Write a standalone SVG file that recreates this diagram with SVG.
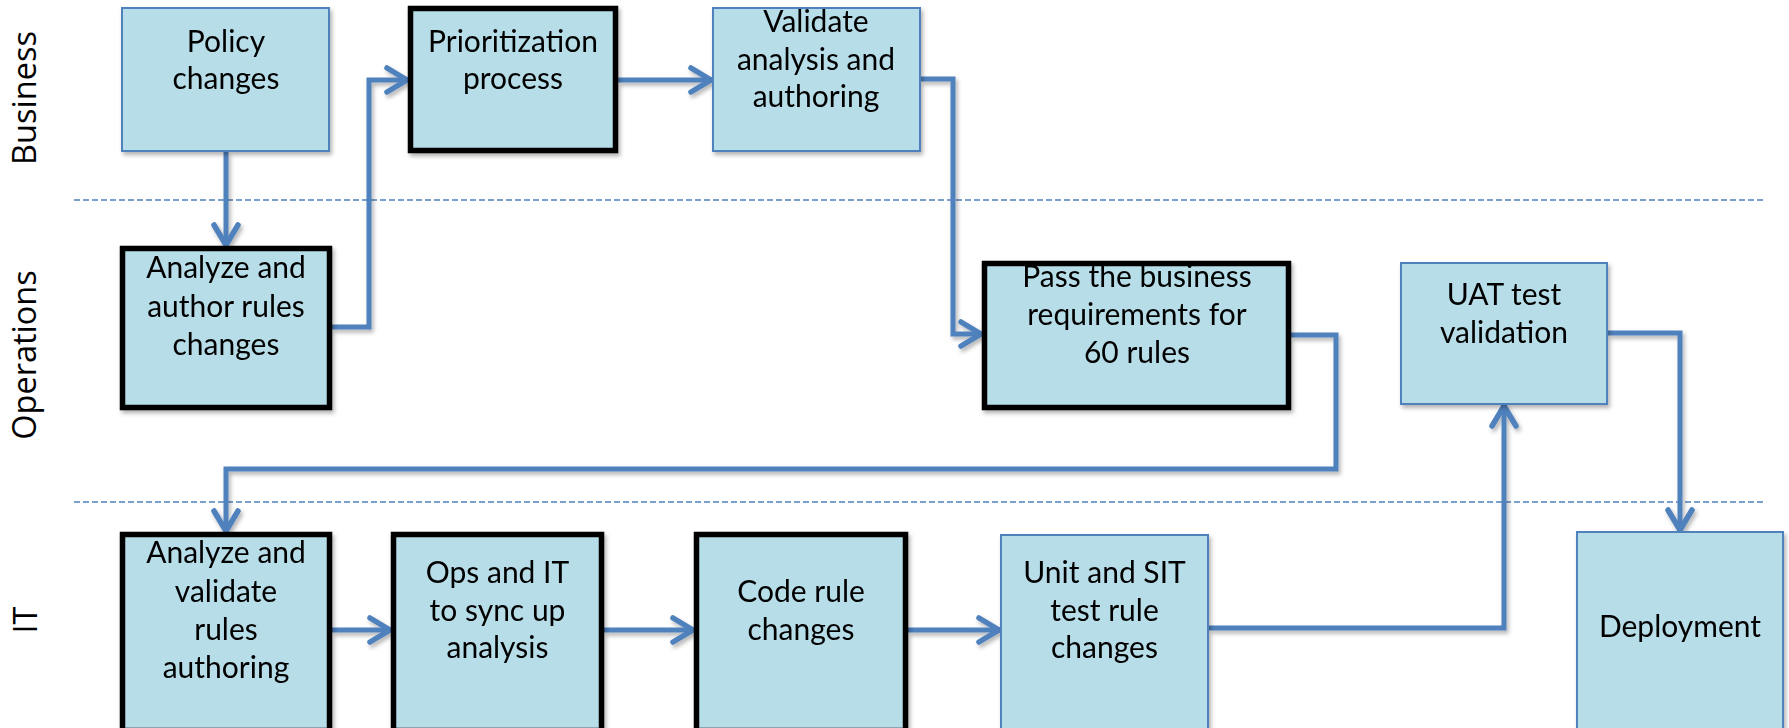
<svg xmlns="http://www.w3.org/2000/svg" width="1789" height="728" viewBox="0 0 1789 728">
<style>
.box{fill:#B7DDE8;}
.thin{stroke:#4F81BD;stroke-width:2;}
.thick{stroke:#000;stroke-width:5.5;}
.t{font-family:Lato,"Liberation Sans",sans-serif;font-size:30px;fill:#000;text-anchor:middle;}
.lane{font-family:"Open Sans","Liberation Sans",sans-serif;font-size:32.5px;fill:#000;text-anchor:middle;}
.sep{stroke:#4F81BD;stroke-width:1.5;stroke-dasharray:6 3;fill:none;}
.c{fill:none;stroke:#4F81BD;stroke-width:5;stroke-linejoin:miter;marker-end:url(#arr);}
</style>
<defs>
<filter id="sh" x="-10%" y="-10%" width="130%" height="130%">
<feDropShadow dx="2" dy="3" stdDeviation="2" flood-color="#000" flood-opacity="0.3"/>
</filter>
<marker id="arr" markerUnits="userSpaceOnUse" markerWidth="32" markerHeight="32" viewBox="-26 -16 30 32" refX="0" refY="0" orient="auto">
<path d="M-21,-12 L-1,0 L-21,12" fill="none" stroke="#4F81BD" stroke-width="5.5" stroke-linecap="round" stroke-linejoin="round"/>
</marker>
</defs>
<rect width="1789" height="728" fill="#fff"/>

<g id="lanes">
<line class="sep" x1="74" y1="200" x2="1766" y2="200"/>
<line class="sep" x1="74" y1="502" x2="1766" y2="502"/>
<text class="lane" transform="translate(36,98) rotate(-90)">Business</text>
<text class="lane" transform="translate(36,355) rotate(-90)">Operations</text>
<text class="lane" transform="translate(37,620) rotate(-90)">IT</text>
</g>

<g id="connectors" filter="url(#sh)">
<path class="c" d="M226,152 V246"/>
<path class="c" d="M332,327 H369 V80 H408"/>
<path class="c" d="M618,80 H712"/>
<path class="c" d="M921,79 H953 V334 H982"/>
<path class="c" d="M1291,335 H1336 V469 H226 V532"/>
<path class="c" d="M332,630 H391"/>
<path class="c" d="M604,630 H694"/>
<path class="c" d="M908,630 H1000"/>
<path class="c" d="M1209,628 H1504 V405"/>
<path class="c" d="M1608,333 H1680 V531"/>
</g>

<g id="policy" filter="url(#sh)">
<rect class="box thin" x="122" y="8" width="207" height="143"/>
<text class="t" x="226" y="52">Policy</text>
<text class="t" x="226" y="89">changes</text>
</g>
<g id="prioritization" filter="url(#sh)">
<rect class="box thick" x="410.5" y="8.5" width="205" height="142"/>
<text class="t" x="513" y="52">Prioritization</text>
<text class="t" x="513" y="89">process</text>
</g>
<g id="validate" filter="url(#sh)">
<rect class="box thin" x="713" y="8" width="207" height="143"/>
<text class="t" x="816" y="32">Validate</text>
<text class="t" x="816" y="70">analysis and</text>
<text class="t" x="816" y="107">authoring</text>
</g>
<g id="analyze-author" filter="url(#sh)">
<rect class="box thick" x="122.5" y="248.5" width="207" height="159"/>
<text class="t" x="226" y="278">Analyze and</text>
<text class="t" x="226" y="317">author rules</text>
<text class="t" x="226" y="355">changes</text>
</g>
<g id="pass" filter="url(#sh)">
<rect class="box thick" x="984.5" y="263.5" width="304" height="144"/>
<text class="t" x="1137" y="287">Pass the business</text>
<text class="t" x="1137" y="325">requirements for</text>
<text class="t" x="1137" y="363">60 rules</text>
</g>
<g id="uat" filter="url(#sh)">
<rect class="box thin" x="1401" y="263" width="206" height="141"/>
<text class="t" x="1504" y="305">UAT test</text>
<text class="t" x="1504" y="343">validation</text>
</g>
<g id="analyze-validate" filter="url(#sh)">
<rect class="box thick" x="122.5" y="534.5" width="207" height="196"/>
<text class="t" x="226" y="563">Analyze and</text>
<text class="t" x="226" y="602">validate</text>
<text class="t" x="226" y="640">rules</text>
<text class="t" x="226" y="678">authoring</text>
</g>
<g id="ops-it" filter="url(#sh)">
<rect class="box thick" x="393.5" y="534.5" width="208" height="196"/>
<text class="t" x="497.5" y="583">Ops and IT</text>
<text class="t" x="497.5" y="621">to sync up</text>
<text class="t" x="497.5" y="658">analysis</text>
</g>
<g id="code" filter="url(#sh)">
<rect class="box thick" x="696.5" y="534.5" width="209" height="196"/>
<text class="t" x="801" y="602">Code rule</text>
<text class="t" x="801" y="640">changes</text>
</g>
<g id="unit-sit" filter="url(#sh)">
<rect class="box thin" x="1001" y="535" width="207" height="195"/>
<text class="t" x="1104.5" y="583">Unit and SIT</text>
<text class="t" x="1104.5" y="621">test rule</text>
<text class="t" x="1104.5" y="658">changes</text>
</g>
<g id="deployment" filter="url(#sh)">
<rect class="box thin" x="1577" y="532" width="206" height="198"/>
<text class="t" x="1680" y="637">Deployment</text>
</g>
</svg>
